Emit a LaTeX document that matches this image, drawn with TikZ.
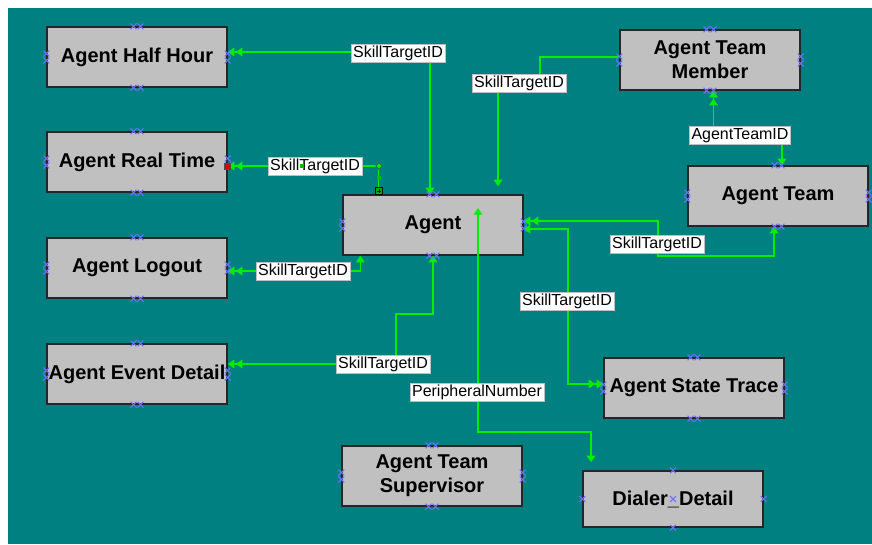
\documentclass[tikz,border=0pt]{standalone}
\usepackage{fontspec}
\setmainfont{Liberation Sans}
\usetikzlibrary{arrows.meta}

\definecolor{bgteal}{HTML}{008080}
\definecolor{boxgrey}{HTML}{C0C0C0}
\definecolor{linkgreen}{HTML}{00EE00}
\definecolor{handleblue}{HTML}{7070FF}

\tikzset{
  one/.tip={Triangle[length=5pt,width=6.5pt]},
  many/.tip={Triangle[length=5pt,width=6.5pt,sep=1pt]Triangle[length=5pt,width=6.5pt]},
  tbl/.style={draw=black!85,fill=boxgrey,line width=1pt,minimum width=135pt,minimum height=45pt,
    inner sep=0pt,align=center,font=\bfseries\fontsize{15pt}{18pt}\selectfont},
  link/.style={draw=linkgreen,line width=1pt},
  lbl/.style={fill=white,draw=gray!50,line width=.4pt,inner xsep=1.5pt,inner ysep=1pt,
    text height=9pt,text depth=2.5pt,font=\fontsize{12pt}{14pt}\selectfont},
  hcross/.pic={\draw[handleblue,line width=.8pt] (-2.2pt,-2.2pt) -- (2.2pt,2.2pt) (-2.2pt,2.2pt) -- (2.2pt,-2.2pt);}
}

\begin{document}
\begin{tikzpicture}[x=0.75pt,y=-0.75pt]
\useasboundingbox (0,0) rectangle (872,544);
\fill[white] (0,0) rectangle (872,544);
\fill[bgteal] (8,8) rectangle (872,544);

% tables
\node[tbl] (ahh) at (137,57) {Agent Half Hour};
\node[tbl] (art) at (137,162) {Agent Real Time};
\node[tbl] (alo) at (137,268) {Agent Logout};
\node[tbl] (aed) at (137,374) {Agent Event Detail};
\node[tbl] (agent) at (433,225) {Agent};
\node[tbl] (atm) at (710,60) {Agent Team\\Member};
\node[tbl] (ateam) at (778,196) {Agent Team};
\node[tbl] (ast) at (694,388) {Agent State Trace};
\node[tbl] (ats) at (432,476) {Agent Team\\Supervisor};
\node[tbl,minimum height=42pt] (dd) at (673,499) {Dialer\_Detail};

% relations
\draw[link,many-one] ([yshift=3.75pt]ahh.east) -| ([xshift=-2.25pt]agent.north);
\draw[link,many-] ([yshift=-3pt]art.east) -| ([xshift=27pt]agent.north west);
\draw[link,one-many] ([xshift=13.5pt]agent.south west) |- ([yshift=-2.25pt]alo.east);
\draw[link,one-many] (agent.south) |- (396,314) |- ([yshift=7.5pt]aed.east);
\draw[link,-one] ([yshift=2.25pt]atm.west) -| (540,83) -| ([shift={(48.75pt,6pt)}]agent.north);
\draw[link,many-one] ([xshift=2.6pt]atm.south) |- (740,135) -| ([xshift=3pt]ateam.north);
\draw[link,one-many] ([xshift=-3pt]ateam.south) |- (658,256) |- ([yshift=3pt]agent.east);
\draw[link,one-many] ([yshift=-3pt]agent.east) -| (568,301) |- ([yshift=3pt]ast.west);
\draw[link,one-one] ([shift={(33.75pt,12.75pt)}]agent.center) |- (530,432) -| ([shift={(-61.5pt,6pt)}]dd.north);

% key labels
\node[lbl] (k1) at (398,53) {SkillTargetID};
\node[lbl] (k2) at (315,166) {SkillTargetID};
\node[lbl] (k3) at (303,271) {SkillTargetID};
\node[lbl] (k4) at (383,364) {SkillTargetID};
\node[lbl] (k5) at (519,83) {SkillTargetID};
\node[lbl] (k6) at (740,135) {AgentTeamID};
\node[lbl] (k7) at (657,244) {SkillTargetID};
\node[lbl] (k8) at (567,301) {SkillTargetID};
\node[lbl] (k9) at (477,392) {PeripheralNumber};

% selection handles
\foreach \b in {ahh,art,alo,aed,agent,atm,ateam,ast,ats} {
  \pic at ([xshift=-2.6pt]\b.north) {hcross}; \pic at ([xshift=2.6pt]\b.north) {hcross};
  \pic at ([xshift=-2.6pt]\b.south) {hcross}; \pic at ([xshift=2.6pt]\b.south) {hcross};
  \pic at ([yshift=-2.6pt]\b.west) {hcross}; \pic at ([yshift=2.6pt]\b.west) {hcross};
  \pic at ([yshift=-2.6pt]\b.east) {hcross}; \pic at ([yshift=2.6pt]\b.east) {hcross};
}
\foreach \a in {north,south,west,east,center} \pic at (dd.\a) {hcross};

% selected relation
\draw[fill=red!85!black,draw=black!70,line width=.4pt] ([yshift=-3pt]art.east) +(-2.2pt,-2.2pt) rectangle +(2.2pt,2.2pt);
\draw[fill=linkgreen,draw=black!70,line width=.4pt] (379,166) +(0,2.5pt) -- +(2.5pt,0) -- +(0,-2.5pt) -- +(-2.5pt,0) -- cycle;
\fill[linkgreen!80!black] (302,166) +(-1.8pt,-1.8pt) rectangle +(1.8pt,1.8pt);
\fill[linkgreen!80!black] (379,178) +(-1.8pt,-1.8pt) rectangle +(1.8pt,1.8pt);
\draw[fill=green!70!black,draw=black,line width=.5pt] (379,191) +(-2.4pt,-2.4pt) rectangle +(2.4pt,2.4pt);
\draw[black,line width=.5pt] (379,191) +(-1.3pt,0) -- +(1.3pt,0) +(0,-1.3pt) -- +(0,1.3pt);
\end{tikzpicture}
\end{document}
